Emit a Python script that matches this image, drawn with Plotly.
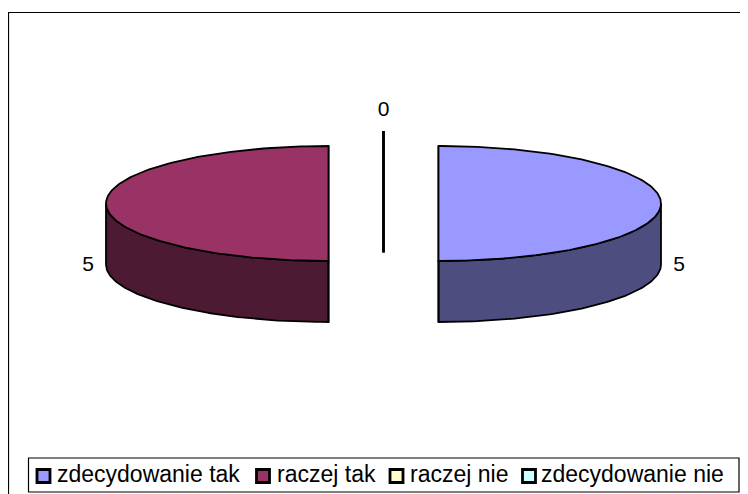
import numpy as np
import plotly.graph_objects as go

categories = ["zdecydowanie tak", "raczej tak", "raczej nie", "zdecydowanie nie"]
values = [5, 5, 0, 0]
top_colors = ["#9999FF", "#993366", "#FFFFCC", "#CCFFFF"]
side_colors = ["#4D4D80", "#4D1A33", "#808066", "#668080"]

CX, CY, RX, RY, DEPTH, EX, EY = 383.5, 203.5, 222.5, 57.5, 61, 55, 15

fig = go.Figure()
total = sum(values)
start = 0.0
for name, v, tc, sc in zip(categories, values, top_colors, side_colors):
    sweep = 2 * np.pi * v / total
    mid = start + sweep / 2
    ox = CX + EX * np.sin(mid)
    oy = CY - EY * np.cos(mid)
    if v == 0:
        # zero-size slice: only the radial edge remains visible
        ex = ox + RX * np.sin(start)
        ey = oy - RY * np.cos(start)
        fig.add_trace(go.Scatter(x=[ex, ex], y=[ey, ey + RY + DEPTH + 3], mode="lines",
                                 line=dict(color="black", width=2.6), showlegend=False, hoverinfo="skip"))
    else:
        t = np.linspace(start, start + sweep, 181)
        ax = ox + RX * np.sin(t)
        ay = oy - RY * np.cos(t)
        vis = np.cos(t) <= 1e-9
        wx = np.r_[ax[vis], ax[vis][::-1], ax[vis][0]]
        wy = np.r_[ay[vis], ay[vis][::-1] + DEPTH, ay[vis][0]]
        fig.add_trace(go.Scatter(x=wx, y=wy, fill="toself", fillcolor=sc, mode="lines",
                                 line=dict(color="black", width=1.8), showlegend=False, hoverinfo="skip"))
        fig.add_trace(go.Scatter(x=[ox, ox], y=[oy - RY, oy + RY + DEPTH],
                                 mode="lines", line=dict(color="black", width=1.8),
                                 showlegend=False, hoverinfo="skip"))
        fig.add_trace(go.Scatter(x=np.r_[ox, ax, ox], y=np.r_[oy, ay, oy], fill="toself", fillcolor=tc,
                                 mode="lines", line=dict(color="black", width=1.8),
                                 showlegend=False, hoverinfo="skip"))
    start += sweep

# data labels
label_pos = [(679, 266), (88, 266), (383.5, 111)]
for (x, y), v in zip(label_pos, values[:3]):
    fig.add_trace(go.Scatter(x=[x], y=[y], mode="text", text=[str(v)], showlegend=False, hoverinfo="skip",
                             textfont=dict(family="Liberation Sans", size=21, color="black")))

# legend row: swatch and label for each category, inside a boxed strip
legend_x = [43.5, 263, 396.5, 529]
legend_text_x = [57, 277, 410, 541]
legend_y = 476
for name, tc, lx, tx in zip(categories, top_colors, legend_x, legend_text_x):
    fig.add_trace(go.Scatter(x=[lx], y=[legend_y], mode="markers", name=name, showlegend=False, hoverinfo="name",
                             marker=dict(symbol="square", size=13, color=tc, line=dict(color="black", width=2.8))))
    fig.add_trace(go.Scatter(x=[tx], y=[legend_y], mode="text", text=[name], textposition="middle right",
                             showlegend=False, hoverinfo="skip",
                             textfont=dict(family="Liberation Sans", size=23, color="black")))

# chart frame: open on the right and bottom, where it runs off the picture
fig.add_shape(type="rect", x0=8.5, y0=12.5, x1=760, y1=510, line=dict(color="black", width=1.2), layer="below")
fig.add_shape(type="rect", x0=28.5, y0=458, x1=739, y1=492, line=dict(color="black", width=1.2),
              fillcolor="white", layer="below")

fig.update_layout(
    width=740, height=486, margin=dict(l=0, r=0, t=0, b=0, autoexpand=False),
    paper_bgcolor="white", plot_bgcolor="white", showlegend=False,
    xaxis=dict(range=[8, 748], visible=False, fixedrange=True),
    yaxis=dict(range=[494, 8], visible=False, fixedrange=True),
    font=dict(family="Liberation Sans"),
)
fig.write_html("out.html")
